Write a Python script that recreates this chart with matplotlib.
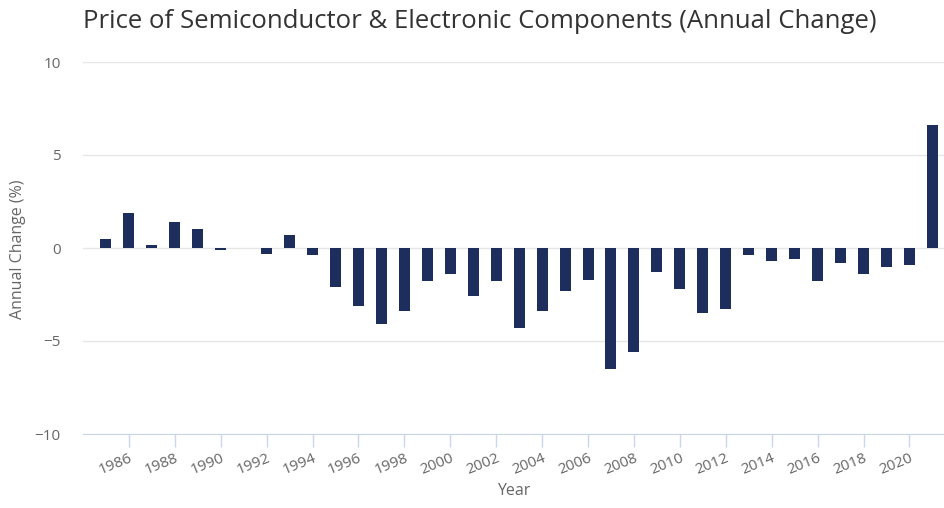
import matplotlib.pyplot as plt

# data
years = list(range(1985, 2022))
change = [0.5, 1.9, 0.15, 1.4, 1.0, -0.1, 0.0, -0.3, 0.7, -0.4,
          -2.1, -3.1, -4.1, -3.4, -1.8, -1.4, -2.6, -1.8, -4.3, -3.4,
          -2.3, -1.7, -6.5, -5.6, -1.3, -2.2, -3.5, -3.3, -0.4, -0.7,
          -0.6, -1.8, -0.8, -1.4, -1.0, -0.9, 6.6]
xticks = list(range(1986, 2021, 2))
yticks = [-10, -5, 0, 5, 10]

plt.rcParams['font.family'] = ['Open Sans', 'DejaVu Sans']

fig = plt.figure(figsize=(9.45, 5.08), dpi=100)
ax = fig.add_axes([83 / 945, 1 - 434 / 508, 1 - 83 / 945, (434 - 62) / 508])

ax.bar(years, change, width=0.48, color='#1d2e5c', zorder=3)

ax.set_xlim(1984.0, 2021.55)
ax.set_ylim(-10, 10)
ax.set_yticks(yticks)
ax.set_yticklabels([str(t).replace('-', '\u2212') for t in yticks])
ax.set_xticks(xticks)
ax.set_xticklabels([str(y) for y in xticks], rotation=22, ha='right',
                   rotation_mode='anchor')

ax.grid(True, axis='y', color='#e6e6e6', linewidth=1, zorder=0)
for s in ['top', 'right', 'left']:
    ax.spines[s].set_visible(False)
ax.spines['bottom'].set_color('#ccd6eb')
ax.tick_params(axis='y', length=0, labelsize=11, colors='#666666', pad=16)
ax.tick_params(axis='x', length=9, width=1, color='#ccd6eb',
               labelsize=11, labelcolor='#666666', pad=3)

fig.text(18 / 945, 1 - 249 / 508, 'Annual Change (%)', fontsize=11.5,
         color='#666666', rotation=90, ha='center', va='center')
ax.set_xlabel('Year', fontsize=11.5, color='#666666', labelpad=4)

fig.text(83 / 945, 1 - 22 / 508, 'Price of Semiconductor & Electronic Components (Annual Change)',
         fontsize=18.5, color='#333333', va='center', ha='left', weight='medium')

fig.savefig('out.png', dpi=100)
